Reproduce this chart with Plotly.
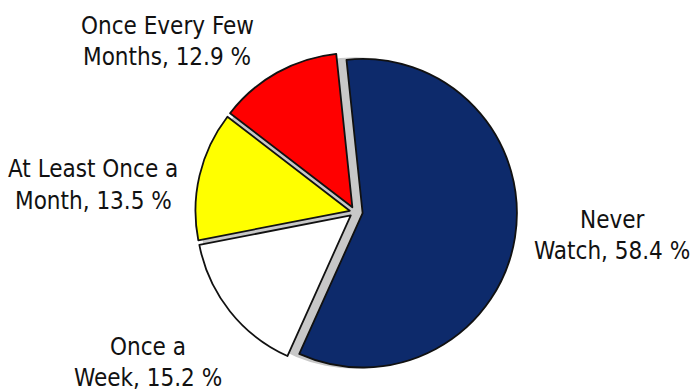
import plotly.graph_objects as go

# Survey responses: how often respondents watch
categories = ["Never Watch", "Once a Week", "At Least Once a Month", "Once Every Few Months"]
shares = [58.4, 15.2, 13.5, 12.9]
label_lines = [("Never", "Watch"), ("Once a", "Week"), ("At Least Once a", "Month"), ("Once Every Few", "Months")]

colors = ["#0d2a6b", "#ffffff", "#ffff00", "#ff0000"]
pulls = [0.05, 0.035, 0.035, 0.035]

W, H = 697, 392
cx, cy, R = 355, 212, 162  # pie centre / outer radius in pixels
r_inner = R / (1 + max(pulls))


def dom(cx, cy, r):
    return dict(x=[(cx - r) / W, (cx + r) / W], y=[(H - cy - r) / H, (H - cy + r) / H])


fig = go.Figure()

# soft grey backing disk that shows through the gaps between exploded slices
fig.add_trace(go.Pie(
    values=[1], marker=dict(colors=["#c8c8c8"], line=dict(width=0)),
    textinfo="none", hoverinfo="skip", sort=False, showlegend=False,
    domain=dom(cx + 1, cy + 1, r_inner * 1.01),
))

fig.add_trace(go.Pie(
    labels=categories, values=shares, sort=False, direction="clockwise",
    rotation=-6, pull=pulls,
    marker=dict(colors=colors, line=dict(color="#111111", width=1.8)),
    textinfo="none", hoverinfo="label+percent", showlegend=False,
    domain=dom(cx, cy, R),
))

# outside labels, one annotation per line: (centre x, first line y, second line y)
label_pos = [(612, 220, 251), (148, 347, 378), (93, 169, 201), (167, 26, 57)]
font = dict(family="DejaVu Sans Condensed, DejaVu Sans, sans-serif",
            size=24, color="#111111")
for (first, second), val, (x, y1, y2) in zip(label_lines, shares, label_pos):
    for txt, y in ((first, y1), (f"{second}, {val} %", y2)):
        fig.add_annotation(
            x=x / W, y=1 - y / H, xref="paper", yref="paper",
            text=txt, showarrow=False, font=font,
            xanchor="center", yanchor="middle",
        )

fig.update_layout(
    width=W, height=H, margin=dict(l=0, r=0, t=0, b=0),
    paper_bgcolor="white", plot_bgcolor="white",
)

fig.write_html("out.html")
